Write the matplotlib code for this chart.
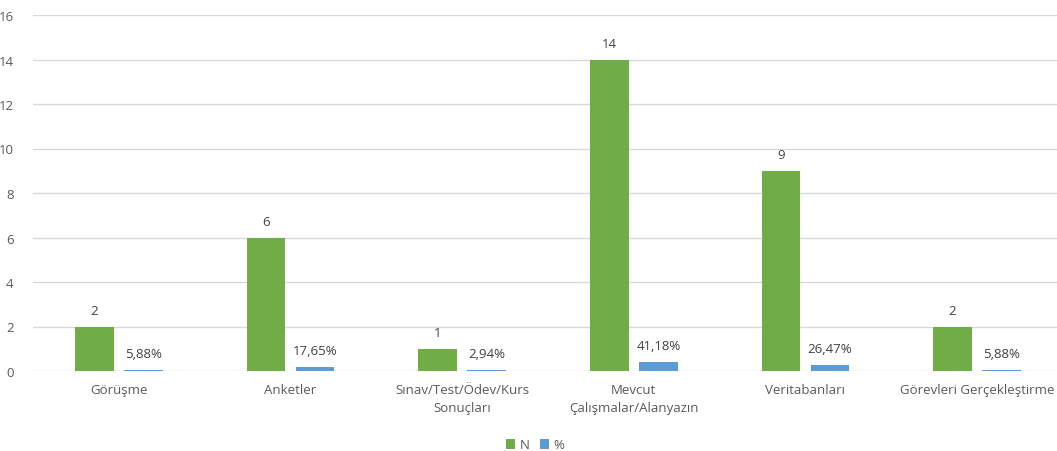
import matplotlib.pyplot as plt
import numpy as np

categories = ['Görüşme', 'Anketler', 'Sınav/Test/Ödev/Kurs\nSonuçları',
              'Mevcut\nÇalışmalar/Alanyazın', 'Veritabanları', 'Görevleri Gerçekleştirme']
n_values = [2, 6, 1, 14, 9, 2]
pct_values = [0.0588, 0.1765, 0.0294, 0.4118, 0.2647, 0.0588]
pct_labels = ['5,88%', '17,65%', '2,94%', '41,18%', '26,47%', '5,88%']

GREEN = '#70AD47'
BLUE = '#5B9BD5'
TXT = '#595959'

plt.rcParams['font.family'] = ['Open Sans', 'DejaVu Sans']

fig = plt.figure(figsize=(10.57, 4.52), dpi=100)
W, H = 1057, 452
# plot area in pixels: left 33, right 1063 (slightly cut), y0 at 372, 16 at 16
ax = fig.add_axes([33 / W, (H - 372) / H, 1030 / W, (372 - 16) / H])

x = np.arange(len(categories))
bw = 0.224
off = 0.143
b1 = ax.bar(x - off, n_values, bw, color=GREEN, label='N', zorder=3)
b2 = ax.bar(x + off, pct_values, bw, color=BLUE, label='%', zorder=3)

for xi, v in zip(x, n_values):
    ax.annotate(str(v), (xi - off, v), xytext=(0, 11.5), textcoords='offset points',
                ha='center', va='center', fontsize=9.5, color='#404040')
for xi, v, lab in zip(x, pct_values, pct_labels):
    ax.annotate(lab, (xi + off, v), xytext=(0, 12), textcoords='offset points',
                ha='center', va='center', fontsize=9.5, color='#404040')

ax.set_xlim(-0.5, len(categories) - 0.5)
ax.set_ylim(0, 16)
ax.set_yticks(range(0, 17, 2))
ax.set_xticks(x)
ax.set_xticklabels(categories, fontsize=9.5, color=TXT, linespacing=1.5)
ax.tick_params(axis='y', labelsize=9.5, labelcolor=TXT, length=0, pad=14)
ax.tick_params(axis='x', length=0, pad=9)
ax.grid(axis='y', color='#D9D9D9', linewidth=1, zorder=0)
for s in ax.spines.values():
    s.set_visible(False)

fig.legend(handles=[b1, b2], labels=['N', '%'], loc='center', bbox_to_anchor=(535 / W, 1 - 446 / H),
           ncol=2, frameon=False, fontsize=9.5, handlelength=0.7, handleheight=0.7,
           handletextpad=0.3, columnspacing=0.8, labelcolor=TXT)

fig.savefig('out.png', dpi=100)
